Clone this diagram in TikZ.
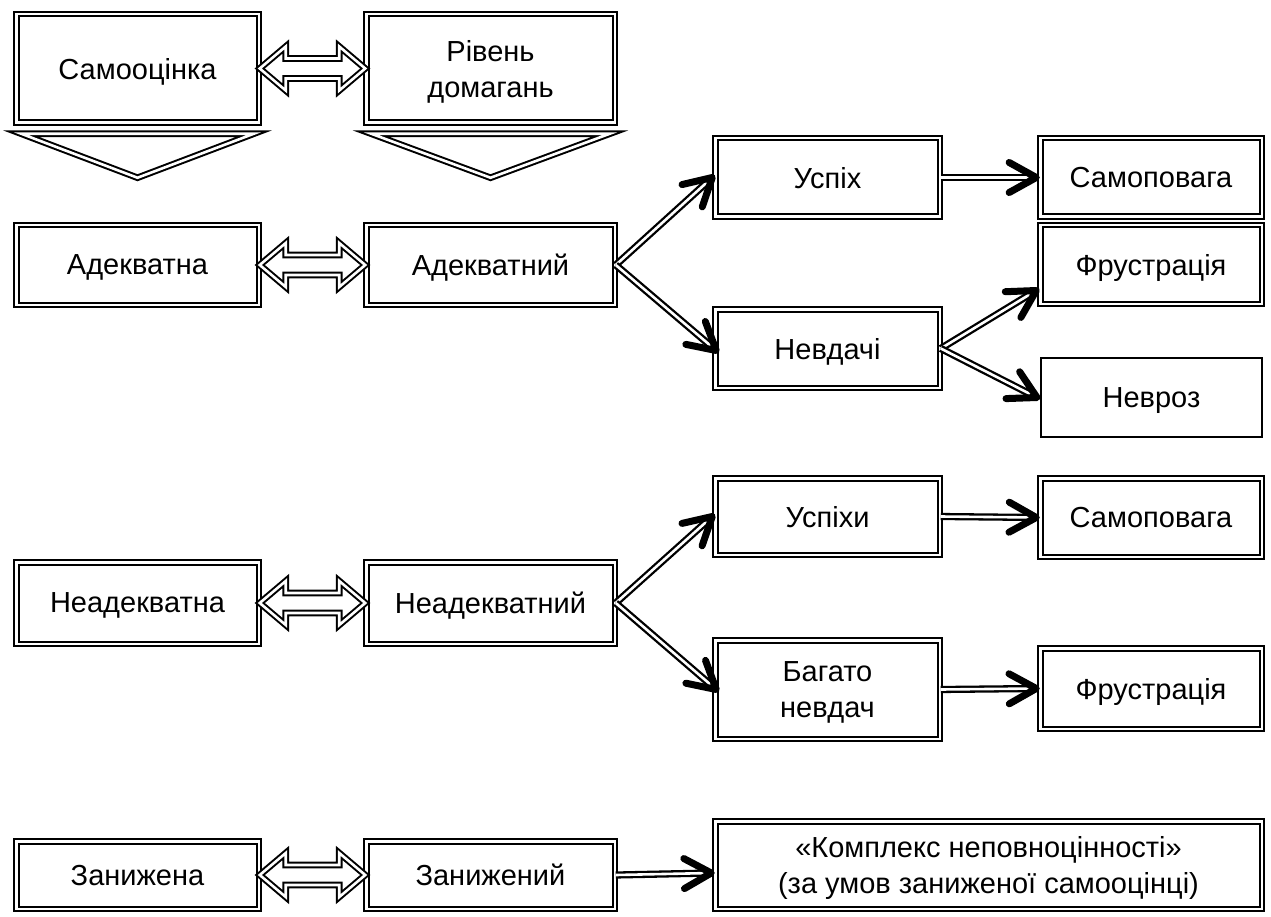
\documentclass[tikz,border=0pt]{standalone}
\usepackage{fontspec}
\setmainfont{Liberation Sans}
\usetikzlibrary{calc}
\tikzset{
  txt/.style={align=center, inner sep=0pt, text depth=0pt, font=\fontsize{29}{36}\selectfont},
  dbox/.style={txt, draw, double, line width=2pt, double distance=2.5pt},
  sbox/.style={txt, draw, line width=2.2pt},
  harrow/.style={draw, double, line width=2pt, double distance=2.6pt, line join=miter, miter limit=20},
  shaft/.style={draw, double, line width=2.3pt, double distance=2.6pt},
  chev/.style={draw, line width=7pt, line cap=round, line join=round},
  colA/.style={minimum width=242.5pt},
  colB/.style={minimum width=248.5pt},
  colC/.style={minimum width=224.5pt},
  colD/.style={minimum width=221.5pt},
}
\newcommand\hollowarrow[2]{%
  \draw[harrow] (#1) -- ($(#1)+(26,-22)$) -- ($(#1)+(26,-10)$) -- ($(#2)+(-26,-10)$)
    -- ($(#2)+(-26,-22)$) -- (#2) -- ($(#2)+(-26,22)$) -- ($(#2)+(-26,10)$)
    -- ($(#1)+(26,10)$) -- ($(#1)+(26,22)$) -- cycle;}
\newcommand\chevarrow[2]{%
  \draw[shaft] (#1) -- ($(#2)!3pt!(#1)$);
  \draw[chev] ($(#2)!31pt!29:(#1)$) -- (#2) -- ($(#2)!31pt!-29:(#1)$);}
\begin{document}
\begin{tikzpicture}[x=1pt, y=-1pt]
\useasboundingbox (0,0) rectangle (1271,917);
% top row
\node[dbox, colA, minimum height=108.5pt] (samo) at (137.5,68.5) {Самооцінка};
\node[dbox, colB, minimum height=108.5pt] (riv) at (490.5,68.5) {Рівень\\домагань};
% triangles
\draw[harrow] ($(samo.south west)+(6,10)$) -- ($(samo.south east)+(-6,10)$) -- ($(samo.south)+(0,54)$) -- cycle;
\draw[harrow] ($(riv.south west)+(6,10)$) -- ($(riv.south east)+(-6,10)$) -- ($(riv.south)+(0,54)$) -- cycle;
% adequate row
\node[dbox, colA, minimum height=79.5pt] (ad) at (137.5,265) {Адекватна};
\node[dbox, colB, minimum height=79.5pt] (adn) at (490.5,265) {Адекватний};
\node[dbox, colC, minimum height=78.5pt] (usp) at (827.5,177.5) {Успіх};
\node[dbox, colD, minimum height=78.5pt] (samop1) at (1151,177.5) {Самоповага};
\node[dbox, colC, minimum height=78.5pt] (nevd) at (827.5,348.5) {Невдачі};
\node[dbox, colD, minimum height=78.5pt] (frus1) at (1151,264.5) {Фрустрація};
\node[sbox, minimum width=220.8pt, minimum height=78.8pt] (nevroz) at (1151.5,397.5) {Невроз};
% inadequate row
\node[dbox, colA, minimum height=81.5pt] (neadna) at (137.5,603) {Неадекватна};
\node[dbox, colB, minimum height=81.5pt] (neadnyi) at (490.5,603) {Неадекватний};
\node[dbox, colC, minimum height=76.5pt] (uspi) at (827.5,516.5) {Успіхи};
\node[dbox, colD, minimum height=78.5pt] (samop2) at (1151,517.5) {Самоповага};
\node[dbox, colC, minimum height=98.5pt] (bagato) at (827.5,689.5) {Багато\\невдач};
\node[dbox, colD, minimum height=80.5pt] (frus2) at (1151,688.5) {Фрустрація};
% low row
\node[dbox, colA, minimum height=67.5pt] (zanna) at (137.5,875) {Занижена};
\node[dbox, colB, minimum height=67.5pt] (zannyi) at (490.5,875) {Занижений};
\node[dbox, minimum width=546.5pt, minimum height=87.5pt] (kompl) at (988.5,865) {«Комплекс неповноцінності»\\(за умов заниженої самооцінці)};
% hollow double arrows
\hollowarrow{samo.east}{riv.west}
\hollowarrow{ad.east}{adn.west}
\hollowarrow{neadna.east}{neadnyi.west}
\hollowarrow{zanna.east}{zannyi.west}
% end points
\coordinate (e-usp) at ($(usp.west)+(-2,0)$);
\coordinate (e-nevd) at ($(nevd.west)+(2,2)$);
\coordinate (e-samop1) at ($(samop1.west)+(-3,0)$);
\coordinate (e-frus1) at ($(frus1.west)+(-3,26)$);
\coordinate (e-nevroz) at ($(nevroz.west)+(-3,0)$);
\coordinate (e-uspi) at ($(uspi.west)+(-2,0)$);
\coordinate (e-bagato) at ($(bagato.west)+(2,0)$);
\coordinate (e-samop2) at ($(samop2.west)+(-3,0)$);
\coordinate (e-frus2) at ($(frus2.west)+(-3,0)$);
\coordinate (e-kompl) at ($(kompl.west)+(-3,8)$);
% chevron arrows
\chevarrow{adn.east}{e-usp}
\chevarrow{adn.east}{e-nevd}
\chevarrow{usp.east}{e-samop1}
\chevarrow{nevd.east}{e-frus1}
\chevarrow{nevd.east}{e-nevroz}
\chevarrow{neadnyi.east}{e-uspi}
\chevarrow{neadnyi.east}{e-bagato}
\chevarrow{uspi.east}{e-samop2}
\chevarrow{bagato.east}{e-frus2}
\chevarrow{zannyi.east}{e-kompl}
\end{tikzpicture}
\end{document}
